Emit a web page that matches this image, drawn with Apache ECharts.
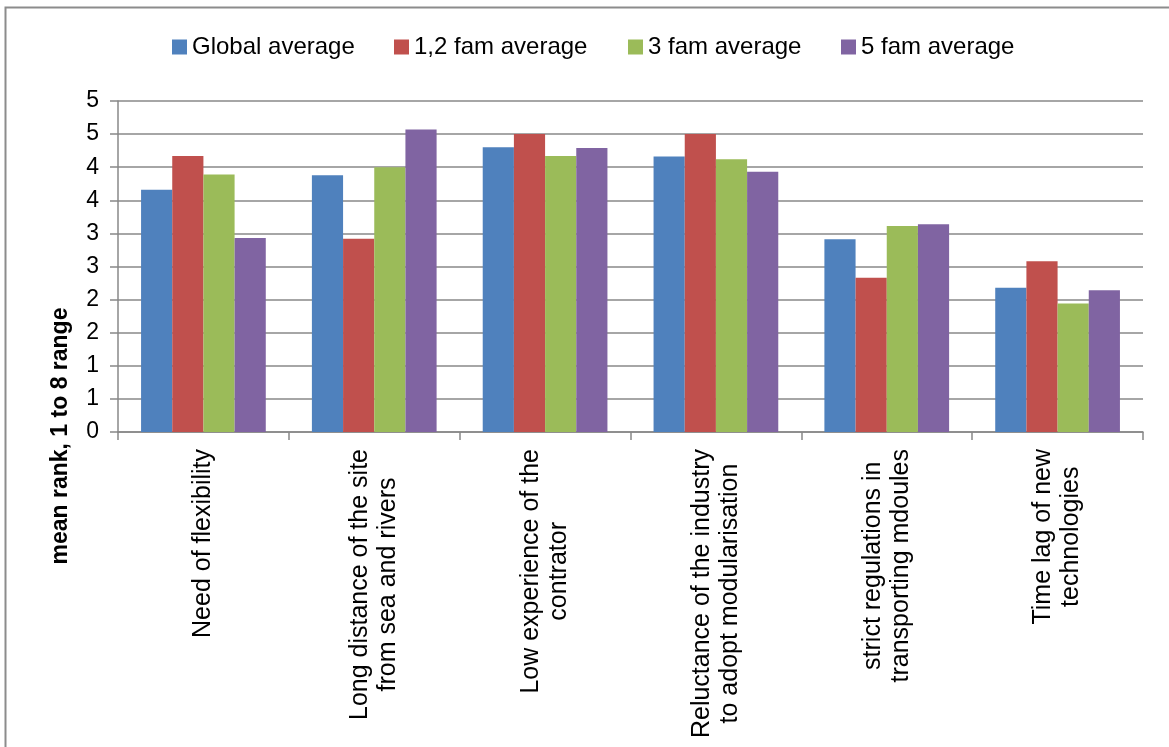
<!DOCTYPE html>
<html>
<head>
<meta charset="utf-8">
<title>mean rank</title>
<script src="https://cdn.jsdelivr.net/npm/echarts@6/dist/echarts.min.js"></script>
<style>
  html, body { margin: 0; padding: 0; background: #fff; }
  #chart { width: 1169px; height: 747px; }
</style>
</head>
<body>
<div id="chart"></div>
<script>
// categories (line breaks as on the original axis)
const categories = [
  'Need of flexibility',
  'Long distance of the site\nfrom sea and rivers',
  'Low experience of the\ncontrator',
  'Reluctance of the industry\nto adopt modularisation',
  'strict regulations in\ntransporting mdoules',
  'Time lag of new\ntechnologies'
]
const seriesNames = ['Global average', '1,2 fam average', '3 fam average', '5 fam average']
const globalAvg = [3.66, 3.88, 4.30, 4.16, 2.91, 2.18]
const fam12Avg = [4.17, 2.92, 4.50, 4.50, 2.33, 2.58]
const fam3Avg = [3.89, 4.00, 4.17, 4.12, 3.11, 1.94]
const fam5Avg = [2.93, 4.57, 4.29, 3.93, 3.14, 2.14]
const yMin = 0
const yMax = 5
const yStep = 0.5
const axisTitle = 'mean rank, 1 to 8 range'

const colors = ['#4F81BD', '#C0504D', '#9BBB59', '#8064A2']
const font = 'Liberation Sans, Arial, sans-serif'
const gridGray = '#888888'

const chart = echarts.init(document.getElementById('chart'))

// one legend per item so each sits where the original put it
const legendLeft = [172, 394, 628, 841]
const legends = seriesNames.map(function(name, i) {
  return {
    data: [{ name: name, icon: 'rect' }],
    left: legendLeft[i],
    top: 35,
    padding: 0,
    itemWidth: 15,
    itemHeight: 15,
    selectedMode: false,
    textStyle: { fontFamily: font, fontSize: 24, color: '#000' }
  }
})

const seriesData = [globalAvg, fam12Avg, fam3Avg, fam5Avg]

chart.setOption({
  animation: false,
  color: colors,
  legend: legends,
  graphic: [
    {
      type: 'rect',
      shape: { x: 5.5, y: 7.5, width: 1300, height: 900 },
      style: { fill: 'none', stroke: '#8c8c8c', lineWidth: 2 },
      silent: true
    },
    {
      type: 'text',
      x: 61,
      y: 436,
      rotation: Math.PI / 2,
      style: {
        text: axisTitle,
        fontFamily: font,
        fontSize: 23,
        fontWeight: 'bold',
        fill: '#000',
        align: 'center',
        verticalAlign: 'middle'
      }
    }
  ],
  grid: {
    left: 118,
    right: 26,
    top: 101,
    bottom: 315,
    containLabel: false,
    outerBoundsMode: 'none'
  },
  xAxis: {
    type: 'category',
    data: categories,
    axisLine: { lineStyle: { color: gridGray, width: 1.5 } },
    axisTick: { show: true, length: 8, interval: 0, lineStyle: { color: gridGray, width: 1.5 } },
    axisLabel: {
      interval: 0,
      rotate: 90,
      margin: 17,
      color: '#000',
      fontFamily: font,
      fontSize: 25,
      lineHeight: 28,
      hideOverlap: false,
      formatter: function(v) {
        return v.split('\n').map(function(l) { return '{c|' + l + '}' }).join('\n')
      },
      rich: {
        c: { align: 'center', fontFamily: font, fontSize: 25, lineHeight: 28, color: '#000' }
      }
    }
  },
  yAxis: {
    type: 'value',
    min: yMin,
    max: yMax,
    interval: yStep,
    axisLine: { show: true, lineStyle: { color: gridGray, width: 1.5 } },
    axisTick: { show: true, length: 8, lineStyle: { color: gridGray, width: 1.5 } },
    splitLine: { show: true, lineStyle: { color: gridGray, width: 1.5 } },
    axisLabel: {
      margin: 19,
      color: '#000',
      fontFamily: font,
      fontSize: 23,
      formatter: function(v) { return String(Math.round(v)) }
    }
  },
  series: seriesNames.map(function(name, i) {
    return {
      name: name,
      type: 'bar',
      barGap: '0%',
      barCategoryGap: '27%',
      itemStyle: { color: colors[i] },
      data: seriesData[i]
    }
  })
})
</script>
</body>
</html>
